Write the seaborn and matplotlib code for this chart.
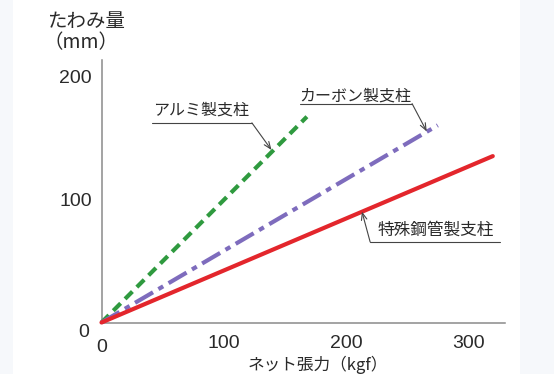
import matplotlib
matplotlib.use("Agg")
import matplotlib.pyplot as plt
import matplotlib.transforms as mtransforms
import seaborn as sns
import pandas as pd
from matplotlib.patches import Rectangle

# ---- data ----
materials = ["アルミ製支柱", "カーボン製支柱", "特殊鋼管製支柱"]
tension_start = [0, 0, 0]
deflection_start = [0, 0, 0]
tension_end = [168, 275, 320]
deflection_end = [167, 160, 135]
x_ticks = [0, 100, 200, 300]
y_ticks = [0, 100, 200]
x_label = "ネット張力（kgf）"
y_label_1 = "たわみ量"
y_label_2 = "（mm）"

rows = []
for m, x0, y0, x1, y1 in zip(materials, tension_start, deflection_start, tension_end, deflection_end):
    rows.append({"tension": x0, "deflection": y0, "material": m})
    rows.append({"tension": x1, "deflection": y1, "material": m})
df = pd.DataFrame(rows)

sns.set_style("white")
plt.rcParams["font.family"] = ["Liberation Sans", "Noto Sans CJK JP", "DejaVu Sans"]
plt.rcParams["lines.scale_dashes"] = False

fig = plt.figure(figsize=(5.54, 3.74), dpi=100, facecolor="#f6f8fb")
fig.patches.append(Rectangle((13 / 554, 0), 507 / 554, 1, transform=fig.transFigure,
                             facecolor="white", edgecolor="none", zorder=-10))
ax = fig.add_axes([101.5 / 554, 1 - 322.5 / 374, (505 - 101.5) / 554, (322.5 - 60) / 374])
ax.set_facecolor("white")

palette = {materials[0]: "#2f9a3f", materials[1]: "#7e6cbd", materials[2]: "#e3262c"}
dashes = {materials[0]: (7.5, 4.5), materials[1]: (15, 4.5, 4, 4.5), materials[2]: ""}
sns.lineplot(data=df, x="tension", y="deflection", hue="material", style="material",
             palette=palette, dashes=dashes, linewidth=3.0, legend=False, ax=ax,
             clip_on=False, zorder=3)

ax.set_xlim(0, 330)
ax.set_ylim(0, 213)
ax.set_xticks(x_ticks)
ax.set_yticks(y_ticks)
ax.set_xlabel("")
ax.set_ylabel("")
for s in ["top", "right"]:
    ax.spines[s].set_visible(False)
for s in ["left", "bottom"]:
    ax.spines[s].set_color("#8a8a8a")
    ax.spines[s].set_linewidth(1.1)
ax.tick_params(direction="in", length=9, width=1.0, color="#8a8a8a",
               labelsize=14, labelcolor="#2a2a2a", pad=7)
ax.tick_params(axis="x", pad=9)

# the zero labels sit a little lower in the reference
fig.canvas.draw()
xt0 = ax.xaxis.get_major_ticks()[0].label1
xt0.set_transform(xt0.get_transform() + mtransforms.ScaledTranslation(0, -3 / 72, fig.dpi_scale_trans))
yt0 = ax.yaxis.get_major_ticks()[0].label1
yt0.set_transform(yt0.get_transform() + mtransforms.ScaledTranslation(-2 / 72, -6 / 72, fig.dpi_scale_trans))

jp = ["Noto Sans CJK JP", "DejaVu Sans"]
tc = "#2a2a2a"
ac = "#444444"

def label(text, tx, ty, ux0, ux1, uy, sx, tipx, tipy, fs):
    ax.text(tx, ty, text, fontsize=fs, color=tc, family=jp, va="center", ha="left",
            clip_on=False)
    ax.plot([ux0, ux1], [uy, uy], color=ac, lw=0.8, clip_on=False, zorder=4)
    ax.annotate("", xy=(tipx, tipy), xytext=(sx, uy),
                arrowprops=dict(arrowstyle="->,head_length=0.5,head_width=0.2",
                                color=ac, lw=0.8, shrinkA=0, shrinkB=0),
                annotation_clip=False, zorder=4)

label(materials[0], 42, 172, 41, 123, 162, 123, 139, 140, 11.5)
label(materials[1], 162, 183.5, 162, 254, 177.6, 254, 266, 155, 11.5)
label(materials[2], 226, 75, 219.7, 326, 65.4, 219.7, 213, 90, 12)

fig.text(86 / 554, 1 - 22 / 374, y_label_1, fontsize=14, color=tc, family=jp,
         ha="center", va="center")
fig.text(81 / 554, 1 - 43 / 374, y_label_2, fontsize=14, color=tc, family=jp,
         ha="center", va="center")
fig.text(318 / 554, 1 - 365 / 374, x_label, fontsize=12, color=tc, family=jp,
         ha="center", va="center")

fig.savefig("out.png", dpi=100, facecolor=fig.get_facecolor())
